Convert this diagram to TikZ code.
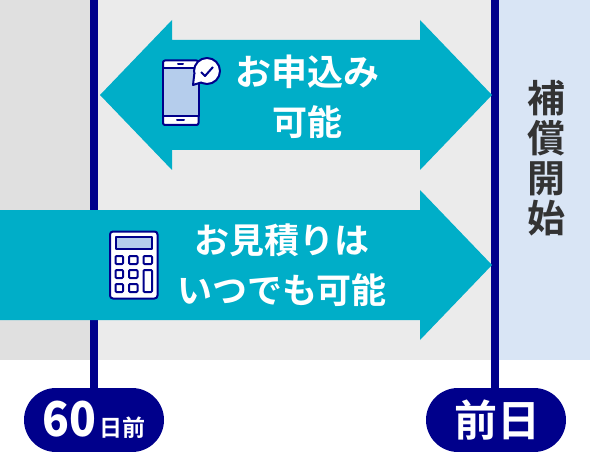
\documentclass[tikz,border=0pt]{standalone}
\usepackage{fontspec}
\newfontfamily\jpfont{Noto Sans CJK JP}[BoldFont={Noto Sans CJK JP Bold}]
\newfontfamily\numfont{Noto Sans CJK JP Bold}[FakeStretch=0.92]
\usetikzlibrary{arrows.meta,positioning,calc}
\definecolor{navyc}{HTML}{00008B}
\definecolor{tealc}{HTML}{00AEC8}
\definecolor{grayL}{HTML}{E0E0E0}
\definecolor{grayM}{HTML}{EBEBEB}
\definecolor{blueL}{HTML}{D9E5F5}
\definecolor{blueS}{HTML}{B5CDEC}
\definecolor{inkc}{HTML}{333333}
\tikzset{
  vline/.style={draw=navyc, line width=8pt},
  arrowbody/.style={fill=tealc, draw=none},
  lbl/.style={font=\jpfont\bfseries\fontsize{35}{50}\selectfont, text=white, align=center, inner sep=0pt},
  pill/.style={fill=navyc, rounded corners=32pt, minimum width=140pt, minimum height=64pt, inner sep=0pt, text=white, font=\jpfont\bfseries},
  icon/.style={draw=navyc, line width=2pt, fill=white, line join=round},
  iconfill/.style={icon, fill=blueS},
  iconline/.style={draw=navyc, line width=2pt, line cap=round, line join=round},
}
\begin{document}
\begin{tikzpicture}[x=1pt,y=-1pt]
\useasboundingbox (0,0) rectangle (590,452);
\fill[grayL] (0,0) rectangle (94,360);
\fill[grayM] (94,0) rectangle (495,360);
\fill[blueL] (495,0) rectangle (590,360);
% time lines and labels
\coordinate (top60) at (94,0);
\coordinate (top1) at (495,0);
\draw[vline] (top60) -- (94,392);
\draw[vline] (top1) -- (495,392);
\node[pill] (pill60) at (94,420) {\numfont\fontsize{48}{48}\selectfont 60\hspace{3pt}\jpfont\bfseries\fontsize{23}{23}\selectfont 日前};
\node[pill] (pill1) at (496,420) {\hspace{3pt}\fontsize{43}{43}\selectfont 前日};
% arrows
\fill[arrowbody] (100,95) -- (172,20) -- (172,40) -- (420,40) -- (420,20) -- (492,95) -- (420,170) -- (420,150) -- (172,150) -- (172,170) -- cycle;
\fill[arrowbody] (0,210) -- (420,210) -- (420,190) -- (492,265) -- (420,340) -- (420,320) -- (0,320) -- cycle;
\node[lbl] (apply) at (307,97) {\fontsize{36}{50}\selectfont お申込み\\可能};
\node[lbl] (quote) at (282,265) {お見積りは\\いつでも可能};
\node[font=\jpfont\bfseries\fontsize{38}{40}\selectfont, text=inkc, align=center, inner sep=0pt] (start) at (546,158) {補\\償\\開\\始};
% phone
\draw[icon, rounded corners=2pt] (163,60.5) rectangle (198.5,125);
\draw[iconfill] (163,68) rectangle (198.5,116);
\draw[iconline] (178,64.2) -- (183,64.2);
\draw[iconline] (177,120.5) -- (184,120.5);
\draw[icon] (207,71) circle[radius=13];
\fill[white] (194.3,74) -- (193,85) -- (201,82.5) -- (204,75) -- cycle;
\draw[iconline] (194.3,74) -- (193,85) -- (201,82.5);
\draw[iconline, line cap=butt] (201,72) -- (205,76) -- (213,67);
% calculator
\draw[icon, rounded corners=3pt] (110,231.5) rectangle (157.5,298.5);
\draw[iconfill] (115.5,237) rectangle (152,249);
\draw[icon, rounded corners=1pt] (115.5,256) rectangle (123,264);
\draw[icon, rounded corners=1pt] (129,256) rectangle (137.5,264);
\draw[icon, rounded corners=1pt] (143.5,256) rectangle (152,264);
\draw[icon, rounded corners=1pt] (115.5,270) rectangle (123,278);
\draw[icon, rounded corners=1pt] (129,270) rectangle (137.5,278);
\draw[icon, rounded corners=1pt] (143.5,270) rectangle (152,292);
\draw[icon, rounded corners=1pt] (115.5,284) rectangle (123,292);
\draw[icon, rounded corners=1pt] (129,284) rectangle (137.5,292);
\end{tikzpicture}
\end{document}
